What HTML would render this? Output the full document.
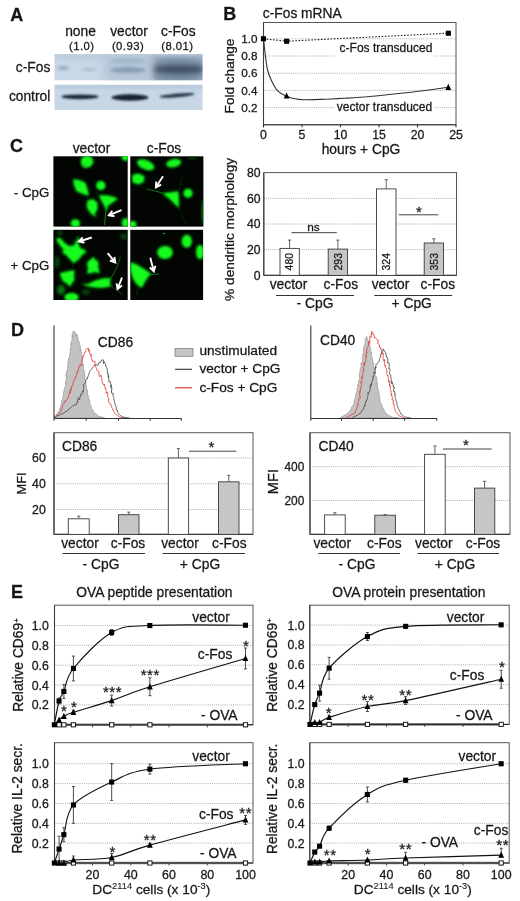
<!DOCTYPE html><html><head><meta charset="utf-8"><title>Figure</title><style>html,body{margin:0;padding:0;background:#fff}svg{display:block}text{font-family:"Liberation Sans",sans-serif;fill:#141414;stroke:#222;stroke-width:.28px}</style></head><body>
<svg width="520" height="901" viewBox="0 0 520 901">
<defs>
<filter id="b1" x="-50%" y="-50%" width="200%" height="200%"><feGaussianBlur stdDeviation="0.85"/></filter>
<filter id="b15" x="-50%" y="-50%" width="200%" height="200%"><feGaussianBlur stdDeviation="1.6"/></filter>
<filter id="b2" x="-50%" y="-50%" width="200%" height="200%"><feGaussianBlur stdDeviation="2.4"/></filter>
<filter id="b3" x="-50%" y="-50%" width="200%" height="200%"><feGaussianBlur stdDeviation="3.5"/></filter>
<filter id="b05" x="-50%" y="-50%" width="200%" height="200%"><feGaussianBlur stdDeviation="0.6"/></filter>
<clipPath id="cb1"><rect x="54.5" y="54" width="148" height="26.3"/></clipPath>
<clipPath id="cb2"><rect x="54.5" y="84.8" width="148" height="25.2"/></clipPath>
<clipPath id="ci1"><rect x="53.4" y="156.3" width="74.3" height="70.3"/></clipPath>
<clipPath id="ci2"><rect x="130.3" y="156.3" width="73.1" height="70.3"/></clipPath>
<clipPath id="ci3"><rect x="53.4" y="229.8" width="74.3" height="70.2"/></clipPath>
<clipPath id="ci4"><rect x="130.3" y="229.8" width="72.8" height="70.2"/></clipPath>
<marker id="ah" viewBox="0 0 10 10" refX="8" refY="5" markerWidth="4.2" markerHeight="4.2" orient="auto"><path d="M0 0.5L10 5L0 9.5L2.5 5Z" fill="#fff"/></marker>
</defs>
<rect x="0" y="0" width="520" height="901" fill="#fff"/>
<!-- Panel A -->
<text x="10.2" y="21.0" font-size="18.0" font-weight="bold" fill="#000">A</text>
<text x="80.5" y="36.2" font-size="13.8" text-anchor="middle">none</text>
<text x="129.0" y="36.2" font-size="13.8" text-anchor="middle">vector</text>
<text x="178.3" y="36.2" font-size="13.8" text-anchor="middle">c-Fos</text>
<text x="81.7" y="50.0" font-size="11.3" text-anchor="middle" fill="#333" letter-spacing="0.45">(1.0)</text>
<text x="128.0" y="50.0" font-size="11.3" text-anchor="middle" fill="#333" letter-spacing="0.45">(0.93)</text>
<text x="177.3" y="50.0" font-size="11.3" text-anchor="middle" fill="#333" letter-spacing="0.45">(8.01)</text>
<text x="50.3" y="71.8" font-size="13.8" text-anchor="end">c-Fos</text>
<text x="50.3" y="101.2" font-size="13.8" text-anchor="end">control</text>
<rect x="54.5" y="54.0" width="148.0" height="26.3" fill="#c9d8e6" stroke="none" stroke-width="1.00"/>
<g clip-path="url(#cb1)">
<rect x="54" y="53" width="150" height="7" fill="#bccddd" filter="url(#b2)"/>
<rect x="104" y="56" width="46" height="26" fill="#b0c2d4" opacity="0.8" filter="url(#b3)"/>
<ellipse cx="128" cy="70" rx="18" ry="2.8" fill="#7389a2" opacity="0.7" filter="url(#b15)"/>
<ellipse cx="128" cy="61" rx="17" ry="2.4" fill="#93a7bc" opacity="0.6" filter="url(#b15)"/>
<ellipse cx="63" cy="68" rx="6" ry="1.7" fill="#8198b0" opacity="0.75" filter="url(#b15)"/>
<ellipse cx="89" cy="69.5" rx="8" ry="1.5" fill="#8da2b8" opacity="0.6" filter="url(#b15)"/>
<rect x="152" y="57" width="54" height="26" fill="#8497ad" filter="url(#b3)"/>
<ellipse cx="179" cy="69.3" rx="25" ry="5.6" fill="#42526a" filter="url(#b2)"/>
<ellipse cx="178" cy="77" rx="22" ry="3" fill="#6a7d94" opacity="0.7" filter="url(#b2)"/>
<ellipse cx="178" cy="61.5" rx="21" ry="2.6" fill="#6f839a" opacity="0.7" filter="url(#b2)"/>
</g>
<rect x="54.5" y="84.8" width="148.0" height="25.2" fill="#c8d7e5" stroke="none" stroke-width="1.00"/>
<g clip-path="url(#cb2)">
<rect x="54" y="84" width="150" height="5" fill="#b8cadb" filter="url(#b15)"/>
<ellipse cx="80" cy="96.8" rx="18.5" ry="2.4" fill="#1c2b3c" filter="url(#b1)"/>
<ellipse cx="130" cy="97.5" rx="18.5" ry="3.3" fill="#16222f" filter="url(#b1)"/>
<ellipse cx="177" cy="95.4" rx="17.5" ry="1.9" fill="#24364a" filter="url(#b1)" transform="rotate(-5 177 95)"/>
</g>
<!-- Panel B -->
<text x="223.2" y="20.0" font-size="18.0" font-weight="bold" fill="#000">B</text>
<text x="262.8" y="17.8" font-size="13.8">c-Fos mRNA</text>
<line x1="263.5" y1="107.6" x2="456.0" y2="107.6" stroke="#999" stroke-width="0.80" stroke-dasharray="1 1.1"/>
<line x1="263.5" y1="90.4" x2="456.0" y2="90.4" stroke="#999" stroke-width="0.80" stroke-dasharray="1 1.1"/>
<line x1="263.5" y1="73.2" x2="456.0" y2="73.2" stroke="#999" stroke-width="0.80" stroke-dasharray="1 1.1"/>
<line x1="263.5" y1="56.0" x2="456.0" y2="56.0" stroke="#999" stroke-width="0.80" stroke-dasharray="1 1.1"/>
<line x1="263.5" y1="38.8" x2="456.0" y2="38.8" stroke="#999" stroke-width="0.80" stroke-dasharray="1 1.1"/>
<rect x="263.5" y="22.5" width="192.5" height="102.3" fill="none" stroke="#555" stroke-width="1.00"/>
<line x1="263.5" y1="22.5" x2="263.5" y2="124.8" stroke="#3c3c3c" stroke-width="1.10"/>
<line x1="263.5" y1="124.8" x2="456.0" y2="124.8" stroke="#3c3c3c" stroke-width="1.10"/>
<line x1="263.5" y1="124.8" x2="263.5" y2="127.3" stroke="#222" stroke-width="1.00"/>
<text x="263.5" y="139.4" font-size="12.3" text-anchor="middle">0</text>
<line x1="302.0" y1="124.8" x2="302.0" y2="127.3" stroke="#222" stroke-width="1.00"/>
<text x="302.0" y="139.4" font-size="12.3" text-anchor="middle">5</text>
<line x1="340.5" y1="124.8" x2="340.5" y2="127.3" stroke="#222" stroke-width="1.00"/>
<text x="340.5" y="139.4" font-size="12.3" text-anchor="middle">10</text>
<line x1="379.0" y1="124.8" x2="379.0" y2="127.3" stroke="#222" stroke-width="1.00"/>
<text x="379.0" y="139.4" font-size="12.3" text-anchor="middle">15</text>
<line x1="417.5" y1="124.8" x2="417.5" y2="127.3" stroke="#222" stroke-width="1.00"/>
<text x="417.5" y="139.4" font-size="12.3" text-anchor="middle">20</text>
<line x1="456.0" y1="124.8" x2="456.0" y2="127.3" stroke="#222" stroke-width="1.00"/>
<text x="456.0" y="139.4" font-size="12.3" text-anchor="middle">25</text>
<text x="257.6" y="111.8" font-size="11.7" text-anchor="end">0.2</text>
<text x="257.6" y="94.6" font-size="11.7" text-anchor="end">0.4</text>
<text x="257.6" y="77.4" font-size="11.7" text-anchor="end">0.6</text>
<text x="257.6" y="60.2" font-size="11.7" text-anchor="end">0.8</text>
<text x="257.6" y="43.0" font-size="11.7" text-anchor="end">1.0</text>
<text x="233.8" y="76.0" font-size="13.6" text-anchor="middle" transform="rotate(-90 233.8 76.0)">Fold change</text>
<path d="M263.5 38.8L286.6 41.2L448.3 33.2" fill="none" stroke="#222" stroke-width="1.10" stroke-dasharray="1.6 1.6"/>
<path d="M263.5 38.8C263.8 41.1 264.4 47.4 265.0 52.6C265.7 57.8 266.4 65.2 267.6 70.0C268.7 74.8 270.2 78.1 271.9 81.5C273.6 85.0 275.2 88.3 277.7 90.8C280.2 93.3 284.0 95.2 286.9 96.5C289.8 97.8 292.2 98.3 295.0 98.8C297.8 99.4 299.2 99.6 303.5 99.7C307.9 99.8 314.3 99.7 321.0 99.4C327.8 99.2 335.8 98.8 344.0 98.3C352.1 97.8 359.4 97.4 369.8 96.5C380.1 95.6 392.9 94.3 406.0 92.8C419.0 91.3 441.2 88.2 448.3 87.3" fill="none" stroke="#333" stroke-width="1.10"/>
<rect x="260.9" y="36.2" width="5.1" height="5.1" fill="#000"/>
<rect x="284.1" y="38.7" width="5.1" height="5.1" fill="#000"/>
<rect x="445.8" y="30.7" width="5.1" height="5.1" fill="#000"/>
<path d="M286.6 92.5L289.5 98.6L283.7 98.6Z" fill="#000"/>
<path d="M448.3 83.8L451.2 89.9L445.4 89.9Z" fill="#000"/>
<rect x="335.0" y="42.0" width="99.0" height="16.0" fill="#fff" stroke="none" stroke-width="1.00"/>
<text x="339.6" y="51.8" font-size="12.0">c-Fos transduced</text>
<rect x="335.0" y="101.0" width="99.0" height="12.5" fill="#fff" stroke="none" stroke-width="1.00"/>
<text x="336.8" y="111.0" font-size="12.0">vector transduced</text>
<text x="361.0" y="154.0" font-size="13.8" text-anchor="middle">hours + CpG</text>
<!-- Panel C -->
<text x="10.0" y="152.3" font-size="18.0" font-weight="bold" fill="#000">C</text>
<text x="91.5" y="153.0" font-size="13.8" text-anchor="middle">vector</text>
<text x="164.0" y="153.0" font-size="13.8" text-anchor="middle">c-Fos</text>
<text x="49.3" y="197.0" font-size="13.3" text-anchor="end">- CpG</text>
<text x="49.3" y="270.0" font-size="13.3" text-anchor="end">+ CpG</text>
<rect x="53.4" y="156.3" width="74.3" height="70.3" fill="#030503" stroke="none" stroke-width="1.00"/>
<g clip-path="url(#ci1)">
<ellipse cx="87.0" cy="161.5" rx="6.4" ry="6.2" fill="#0c9a14" filter="url(#b15)" opacity="0.90"/>
<ellipse cx="87.0" cy="161.5" rx="5.6" ry="5.4" fill="#12fb1e" filter="url(#b1)" opacity="1.00"/>
<polygon points="81.0,163.0 84.0,168.0 88.0,167.0" fill="#18d020" filter="url(#b1)" opacity="1.00"/>
<ellipse cx="125.8" cy="157.0" rx="4.4" ry="4.0" fill="#0c9a14" filter="url(#b15)" opacity="0.90"/>
<ellipse cx="125.8" cy="157.0" rx="3.6" ry="3.2" fill="#12fb1e" filter="url(#b1)" opacity="1.00"/>
<polygon points="73.5,179.5 79.0,180.5 85.0,183.0 87.0,189.0 88.5,195.5 83.0,193.5 77.0,191.0 74.5,185.0" fill="#0a8a12" filter="url(#b2)" opacity="0.70"/>
<polygon points="73.5,179.5 79.0,180.5 85.0,183.0 87.0,189.0 88.5,195.5 83.0,193.5 77.0,191.0 74.5,185.0" fill="#0c9a14" filter="url(#b15)" opacity="0.90"/>
<polygon points="73.5,179.5 79.0,180.5 85.0,183.0 87.0,189.0 88.5,195.5 83.0,193.5 77.0,191.0 74.5,185.0" fill="#12fb1e" filter="url(#b1)" opacity="1.00"/>
<ellipse cx="100.8" cy="185.5" rx="4.8" ry="4.7" fill="#0c9a14" filter="url(#b15)" opacity="0.90"/>
<ellipse cx="100.8" cy="185.5" rx="4.0" ry="3.9" fill="#12fb1e" filter="url(#b1)" opacity="1.00"/>
<polygon points="99.2,195.5 108.0,196.0 117.7,198.6 112.0,202.5 107.5,205.5 106.2,211.0 104.5,205.0 101.5,200.0" fill="#0a8a12" filter="url(#b2)" opacity="0.70"/>
<polygon points="99.2,195.5 108.0,196.0 117.7,198.6 112.0,202.5 107.5,205.5 106.2,211.0 104.5,205.0 101.5,200.0" fill="#0c9a14" filter="url(#b15)" opacity="0.90"/>
<polygon points="99.2,195.5 108.0,196.0 117.7,198.6 112.0,202.5 107.5,205.5 106.2,211.0 104.5,205.0 101.5,200.0" fill="#12fb1e" filter="url(#b1)" opacity="1.00"/>
<polyline points="106.5,208.0 105.3,216.0 104.6,225.0" fill="none" stroke="#14c41c" stroke-width="1.1" filter="url(#b05)" opacity="0.63"/>
<polygon points="87.5,201.0 93.0,199.5 97.0,203.0 97.0,209.0 94.5,213.5 96.0,217.0 91.0,213.0 87.5,208.0" fill="#0a8a12" filter="url(#b2)" opacity="0.70"/>
<polygon points="87.5,201.0 93.0,199.5 97.0,203.0 97.0,209.0 94.5,213.5 96.0,217.0 91.0,213.0 87.5,208.0" fill="#0c9a14" filter="url(#b15)" opacity="0.90"/>
<polygon points="87.5,201.0 93.0,199.5 97.0,203.0 97.0,209.0 94.5,213.5 96.0,217.0 91.0,213.0 87.5,208.0" fill="#12fb1e" filter="url(#b1)" opacity="1.00"/>
<ellipse cx="75.4" cy="223.4" rx="4.8" ry="4.4" fill="#0c9a14" filter="url(#b15)" opacity="0.90"/>
<ellipse cx="75.4" cy="223.4" rx="4.0" ry="3.6" fill="#12fb1e" filter="url(#b1)" opacity="1.00"/>
<ellipse cx="125.6" cy="222.8" rx="4.0" ry="4.8" fill="#0c9a14" filter="url(#b15)" opacity="0.90"/>
<ellipse cx="125.6" cy="222.8" rx="3.2" ry="4.0" fill="#12fb1e" filter="url(#b1)" opacity="1.00"/>
<polyline points="96.0,191.0 98.0,196.0" fill="none" stroke="#0a7a10" stroke-width="0.8" filter="url(#b05)" opacity="0.42"/>
<path d="M121.5 210.2L108.8 215.4M112.3 210.8L108.8 215.4L114.5 216.2" fill="none" stroke="#fff" stroke-width="1.9" stroke-linejoin="miter"/>
</g>
<rect x="130.3" y="156.3" width="73.1" height="70.3" fill="#030503" stroke="none" stroke-width="1.00"/>
<g clip-path="url(#ci2)">
<ellipse cx="145.7" cy="164.8" rx="9.4" ry="4.8" fill="#0c9a14" filter="url(#b15)" opacity="0.90" transform="rotate(22 145.7 164.8)"/>
<ellipse cx="145.7" cy="164.8" rx="8.6" ry="4.0" fill="#12fb1e" filter="url(#b1)" opacity="1.00" transform="rotate(22 145.7 164.8)"/>
<ellipse cx="173.7" cy="163.2" rx="7.8" ry="4.2" fill="#0c9a14" filter="url(#b15)" opacity="0.90" transform="rotate(-12 173.7 163.2)"/>
<ellipse cx="173.7" cy="163.2" rx="7.0" ry="3.4" fill="#12fb1e" filter="url(#b1)" opacity="1.00" transform="rotate(-12 173.7 163.2)"/>
<polygon points="132.5,175.5 138.0,174.0 144.0,176.5 143.5,181.5 138.5,184.0 133.0,182.0" fill="#0a8a12" filter="url(#b2)" opacity="0.70"/>
<polygon points="132.5,175.5 138.0,174.0 144.0,176.5 143.5,181.5 138.5,184.0 133.0,182.0" fill="#0c9a14" filter="url(#b15)" opacity="0.90"/>
<polygon points="132.5,175.5 138.0,174.0 144.0,176.5 143.5,181.5 138.5,184.0 133.0,182.0" fill="#12fb1e" filter="url(#b1)" opacity="1.00"/>
<polygon points="162.6,193.2 170.0,193.0 178.0,191.7 178.3,199.0 178.6,207.8 173.0,201.5 168.0,197.0" fill="#0a8a12" filter="url(#b2)" opacity="0.70"/>
<polygon points="162.6,193.2 170.0,193.0 178.0,191.7 178.3,199.0 178.6,207.8 173.0,201.5 168.0,197.0" fill="#0c9a14" filter="url(#b15)" opacity="0.90"/>
<polygon points="162.6,193.2 170.0,193.0 178.0,191.7 178.3,199.0 178.6,207.8 173.0,201.5 168.0,197.0" fill="#12fb1e" filter="url(#b1)" opacity="1.00"/>
<polyline points="146.5,189.0 155.0,191.0 163.0,193.3" fill="none" stroke="#14c41c" stroke-width="1.0" filter="url(#b05)" opacity="0.59"/>
<polyline points="178.0,192.0 180.5,184.0 182.6,177.0" fill="none" stroke="#0a7a10" stroke-width="0.8" filter="url(#b05)" opacity="0.39"/>
<polyline points="178.5,207.0 182.0,215.0 186.0,224.0" fill="none" stroke="#0a7a10" stroke-width="0.8" filter="url(#b05)" opacity="0.35"/>
<ellipse cx="188.0" cy="193.2" rx="4.7" ry="4.7" fill="#0c9a14" filter="url(#b15)" opacity="0.90"/>
<ellipse cx="188.0" cy="193.2" rx="3.9" ry="3.9" fill="#12fb1e" filter="url(#b1)" opacity="1.00"/>
<ellipse cx="132.5" cy="224.5" rx="4.2" ry="3.8" fill="#0c9a14" filter="url(#b15)" opacity="0.90"/>
<ellipse cx="132.5" cy="224.5" rx="3.4" ry="3.0" fill="#12fb1e" filter="url(#b1)" opacity="1.00"/>
<ellipse cx="203.0" cy="212.0" rx="1.6" ry="12.0" fill="#0c9a14" filter="url(#b1)" opacity="0.70"/>
<ellipse cx="192.0" cy="158.0" rx="4.0" ry="1.5" fill="#0a7a10" filter="url(#b1)" opacity="0.50"/>
<path d="M163.0 176.3L155.9 187.3M156.2 181.5L155.9 187.3L161.1 184.7" fill="none" stroke="#fff" stroke-width="1.9" stroke-linejoin="miter"/>
</g>
<rect x="53.4" y="229.8" width="74.3" height="70.2" fill="#030503" stroke="none" stroke-width="1.00"/>
<g clip-path="url(#ci3)">
<polygon points="56.5,239.6 59.5,238.1 64.6,243.6 69.2,246.7 74.3,245.8 76.5,241.2 78.6,236.5 79.2,237.2 77.7,243.9 80.2,248.5 86.3,251.3 81.5,255.0 78.6,259.0 73.4,262.7 71.2,259.9 67.2,255.6 62.0,251.6 64.8,250.1 60.2,245.2" fill="#0a8a12" filter="url(#b2)" opacity="0.70"/>
<polygon points="56.5,239.6 59.5,238.1 64.6,243.6 69.2,246.7 74.3,245.8 76.5,241.2 78.6,236.5 79.2,237.2 77.7,243.9 80.2,248.5 86.3,251.3 81.5,255.0 78.6,259.0 73.4,262.7 71.2,259.9 67.2,255.6 62.0,251.6 64.8,250.1 60.2,245.2" fill="#0c9a14" filter="url(#b15)" opacity="0.90"/>
<polygon points="56.5,239.6 59.5,238.1 64.6,243.6 69.2,246.7 74.3,245.8 76.5,241.2 78.6,236.5 79.2,237.2 77.7,243.9 80.2,248.5 86.3,251.3 81.5,255.0 78.6,259.0 73.4,262.7 71.2,259.9 67.2,255.6 62.0,251.6 64.8,250.1 60.2,245.2" fill="#12fb1e" filter="url(#b1)" opacity="1.00"/>
<polyline points="73.1,262.1 72.5,267.3" fill="none" stroke="#0a7a10" stroke-width="0.8" filter="url(#b05)" opacity="0.42"/>
<polygon points="93.5,257.2 94.9,259.9 98.0,262.1 97.7,267.3 99.5,273.2 95.5,271.6 91.2,272.5 87.4,273.5 88.5,268.5 87.4,262.7 90.3,260.2" fill="#0a8a12" filter="url(#b2)" opacity="0.70"/>
<polygon points="93.5,257.2 94.9,259.9 98.0,262.1 97.7,267.3 99.5,273.2 95.5,271.6 91.2,272.5 87.4,273.5 88.5,268.5 87.4,262.7 90.3,260.2" fill="#0c9a14" filter="url(#b15)" opacity="0.90"/>
<polygon points="93.5,257.2 94.9,259.9 98.0,262.1 97.7,267.3 99.5,273.2 95.5,271.6 91.2,272.5 87.4,273.5 88.5,268.5 87.4,262.7 90.3,260.2" fill="#12fb1e" filter="url(#b1)" opacity="1.00"/>
<polygon points="60.2,273.2 64.8,272.5 69.7,271.3 74.6,270.7 73.4,275.0 74.0,279.9 71.2,283.3 70.0,286.4 67.2,283.0 63.5,281.2 61.7,277.2" fill="#0a8a12" filter="url(#b2)" opacity="0.70"/>
<polygon points="60.2,273.2 64.8,272.5 69.7,271.3 74.6,270.7 73.4,275.0 74.0,279.9 71.2,283.3 70.0,286.4 67.2,283.0 63.5,281.2 61.7,277.2" fill="#0c9a14" filter="url(#b15)" opacity="0.90"/>
<polygon points="60.2,273.2 64.8,272.5 69.7,271.3 74.6,270.7 73.4,275.0 74.0,279.9 71.2,283.3 70.0,286.4 67.2,283.0 63.5,281.2 61.7,277.2" fill="#12fb1e" filter="url(#b1)" opacity="1.00"/>
<polygon points="81.7,284.2 88.5,284.2 94.6,281.2 102.3,279.0 110.6,278.4 109.1,282.4 110.9,286.1 103.1,287.3 96.2,287.3 88.5,286.1" fill="#0a8a12" filter="url(#b2)" opacity="0.70"/>
<polygon points="81.7,284.2 88.5,284.2 94.6,281.2 102.3,279.0 110.6,278.4 109.1,282.4 110.9,286.1 103.1,287.3 96.2,287.3 88.5,286.1" fill="#0c9a14" filter="url(#b15)" opacity="0.90"/>
<polygon points="81.7,284.2 88.5,284.2 94.6,281.2 102.3,279.0 110.6,278.4 109.1,282.4 110.9,286.1 103.1,287.3 96.2,287.3 88.5,286.1" fill="#12fb1e" filter="url(#b1)" opacity="1.00"/>
<polyline points="81.5,284.2 81.5,279.3" fill="none" stroke="#0a7a10" stroke-width="0.8" filter="url(#b05)" opacity="0.42"/>
<polyline points="110.3,279.0 114.3,272.5 117.4,265.8 119.5,259.6 120.5,257.2" fill="none" stroke="#14c41c" stroke-width="0.9" filter="url(#b05)" opacity="0.59"/>
<polyline points="110.3,285.8 116.2,290.1 122.6,295.0" fill="none" stroke="#12b01a" stroke-width="0.8" filter="url(#b05)" opacity="0.52"/>
<ellipse cx="71.5" cy="297.3" rx="7.3" ry="4.6" fill="#0c9a14" filter="url(#b15)" opacity="0.90"/>
<ellipse cx="71.5" cy="297.3" rx="6.5" ry="3.8" fill="#12fb1e" filter="url(#b1)" opacity="1.00"/>
<ellipse cx="61.0" cy="290.0" rx="4.0" ry="5.0" fill="#0c9a14" filter="url(#b15)" opacity="0.75"/>
<ellipse cx="57.0" cy="262.0" rx="3.0" ry="6.0" fill="#0a7a10" filter="url(#b15)" opacity="0.50"/>
<ellipse cx="86.0" cy="292.0" rx="4.0" ry="3.0" fill="#0a7a10" filter="url(#b15)" opacity="0.50"/>
<ellipse cx="123.8" cy="236.5" rx="3.5" ry="3.0" fill="#0a7a10" filter="url(#b15)" opacity="0.55"/>
<ellipse cx="60.0" cy="233.0" rx="3.0" ry="2.5" fill="#0a7a10" filter="url(#b15)" opacity="0.50"/>
<path d="M91.8 237.5L78.8 241.5M82.7 237.3L78.8 241.5L84.5 242.8" fill="none" stroke="#fff" stroke-width="1.9" stroke-linejoin="miter"/>
<path d="M107.7 253.2L115.3 262.6M109.9 260.5L115.3 262.6L114.4 256.9" fill="none" stroke="#fff" stroke-width="1.9" stroke-linejoin="miter"/>
<path d="M122.0 277.5L117.5 289.1M116.6 283.4L117.5 289.1L122.0 285.5" fill="none" stroke="#fff" stroke-width="1.9" stroke-linejoin="miter"/>
</g>
<rect x="130.3" y="229.8" width="72.8" height="70.2" fill="#030503" stroke="none" stroke-width="1.00"/>
<g clip-path="url(#ci4)">
<ellipse cx="165.0" cy="252.4" rx="8.0" ry="6.8" fill="#0c9a14" filter="url(#b15)" opacity="0.90"/>
<ellipse cx="165.0" cy="252.4" rx="7.2" ry="6.0" fill="#12fb1e" filter="url(#b1)" opacity="1.00"/>
<ellipse cx="186.8" cy="241.2" rx="5.3" ry="6.8" fill="#0c9a14" filter="url(#b15)" opacity="0.90"/>
<ellipse cx="186.8" cy="241.2" rx="4.5" ry="6.0" fill="#12fb1e" filter="url(#b1)" opacity="1.00"/>
<ellipse cx="200.0" cy="252.0" rx="4.2" ry="7.4" fill="#0c9a14" filter="url(#b15)" opacity="0.90"/>
<ellipse cx="200.0" cy="252.0" rx="3.4" ry="6.6" fill="#12fb1e" filter="url(#b1)" opacity="1.00"/>
<polygon points="131.0,262.5 137.5,265.5 144.0,269.5 150.5,273.8 146.0,279.0 141.5,287.5 137.0,284.0 133.5,279.0 131.0,271.0" fill="#0a8a12" filter="url(#b2)" opacity="0.70"/>
<polygon points="131.0,262.5 137.5,265.5 144.0,269.5 150.5,273.8 146.0,279.0 141.5,287.5 137.0,284.0 133.5,279.0 131.0,271.0" fill="#0c9a14" filter="url(#b15)" opacity="0.90"/>
<polygon points="131.0,262.5 137.5,265.5 144.0,269.5 150.5,273.8 146.0,279.0 141.5,287.5 137.0,284.0 133.5,279.0 131.0,271.0" fill="#12fb1e" filter="url(#b1)" opacity="1.00"/>
<polyline points="147.0,274.6 153.0,274.4 158.8,274.0" fill="none" stroke="#14c41c" stroke-width="1.0" filter="url(#b05)" opacity="0.59"/>
<polyline points="139.0,285.5 137.5,290.0 136.5,295.0" fill="none" stroke="#0a7a10" stroke-width="0.8" filter="url(#b05)" opacity="0.42"/>
<ellipse cx="164.2" cy="233.5" rx="1.4" ry="0.8" fill="#14c41c" filter="url(#b05)" opacity="0.80"/>
<path d="M150.3 257.8L153.8 271.4M149.7 267.3L153.8 271.4L155.4 265.8" fill="none" stroke="#fff" stroke-width="1.9" stroke-linejoin="miter"/>
</g>
<line x1="263.8" y1="249.7" x2="456.5" y2="249.7" stroke="#999" stroke-width="0.80" stroke-dasharray="1 1.1"/>
<line x1="263.8" y1="224.0" x2="456.5" y2="224.0" stroke="#999" stroke-width="0.80" stroke-dasharray="1 1.1"/>
<line x1="263.8" y1="198.3" x2="456.5" y2="198.3" stroke="#999" stroke-width="0.80" stroke-dasharray="1 1.1"/>
<rect x="263.8" y="172.6" width="192.7" height="102.8" fill="none" stroke="#555" stroke-width="1.00"/>
<line x1="263.8" y1="172.6" x2="263.8" y2="275.4" stroke="#3c3c3c" stroke-width="1.10"/>
<line x1="263.8" y1="275.4" x2="456.5" y2="275.4" stroke="#3c3c3c" stroke-width="1.10"/>
<text x="260.6" y="279.8" font-size="12.2" text-anchor="end">0</text>
<text x="260.6" y="254.1" font-size="12.2" text-anchor="end">20</text>
<text x="260.6" y="228.4" font-size="12.2" text-anchor="end">40</text>
<text x="260.6" y="202.7" font-size="12.2" text-anchor="end">60</text>
<text x="260.6" y="177.0" font-size="12.2" text-anchor="end">80</text>
<line x1="289.6" y1="240.1" x2="289.6" y2="248.4" stroke="#555" stroke-width="0.90"/>
<line x1="288.0" y1="240.1" x2="291.2" y2="240.1" stroke="#555" stroke-width="0.90"/>
<rect x="280.0" y="248.4" width="19.3" height="27.0" fill="#fff" stroke="#3a3a3a" stroke-width="0.90"/>
<text x="293.3" y="270.4" font-size="10.4" transform="rotate(-90 293.3 270.4)">480</text>
<line x1="337.9" y1="240.1" x2="337.9" y2="249.1" stroke="#555" stroke-width="0.90"/>
<line x1="336.2" y1="240.1" x2="339.5" y2="240.1" stroke="#555" stroke-width="0.90"/>
<rect x="328.2" y="249.1" width="19.3" height="26.3" fill="#c6c6c6" stroke="#3a3a3a" stroke-width="0.90"/>
<text x="341.6" y="270.4" font-size="10.4" transform="rotate(-90 341.6 270.4)">293</text>
<line x1="386.2" y1="179.7" x2="386.2" y2="188.9" stroke="#555" stroke-width="0.90"/>
<line x1="384.6" y1="179.7" x2="387.9" y2="179.7" stroke="#555" stroke-width="0.90"/>
<rect x="376.5" y="188.9" width="19.5" height="86.5" fill="#fff" stroke="#3a3a3a" stroke-width="0.90"/>
<text x="389.9" y="270.4" font-size="10.4" transform="rotate(-90 389.9 270.4)">324</text>
<line x1="433.9" y1="238.8" x2="433.9" y2="243.0" stroke="#555" stroke-width="0.90"/>
<line x1="432.2" y1="238.8" x2="435.5" y2="238.8" stroke="#555" stroke-width="0.90"/>
<rect x="424.2" y="243.0" width="19.3" height="32.4" fill="#c6c6c6" stroke="#3a3a3a" stroke-width="0.90"/>
<text x="437.6" y="270.4" font-size="10.4" transform="rotate(-90 437.6 270.4)">353</text>
<line x1="291.5" y1="232.7" x2="336.8" y2="232.7" stroke="#222" stroke-width="0.85"/>
<text x="313.5" y="230.6" font-size="11.8" text-anchor="middle">ns</text>
<line x1="398.8" y1="214.8" x2="438.4" y2="214.8" stroke="#222" stroke-width="0.85"/>
<text x="419.0" y="216.6" font-size="15.0" text-anchor="middle">*</text>
<text x="288.5" y="288.6" font-size="13.8" text-anchor="middle">vector</text>
<text x="340.8" y="288.6" font-size="13.8" text-anchor="middle">c-Fos</text>
<text x="390.5" y="288.6" font-size="13.8" text-anchor="middle">vector</text>
<text x="437.8" y="288.6" font-size="13.8" text-anchor="middle">c-Fos</text>
<line x1="276.0" y1="295.5" x2="354.0" y2="295.5" stroke="#333" stroke-width="1.00"/>
<line x1="374.3" y1="295.5" x2="452.2" y2="295.5" stroke="#333" stroke-width="1.00"/>
<text x="315.0" y="308.3" font-size="13.8" text-anchor="middle">- CpG</text>
<text x="411.7" y="308.3" font-size="13.8" text-anchor="middle">+ CpG</text>
<text x="234.0" y="229.4" font-size="13.7" text-anchor="middle" transform="rotate(-90 234.0 229.4)">% dendritic morphology</text>
<!-- Panel D -->
<text x="11.0" y="335.6" font-size="18.0" font-weight="bold" fill="#000">D</text>
<polygon points="53.8,417.8 55.0,416.5 56.2,414.9 57.2,413.9 58.4,412.1 59.1,411.0 59.5,409.6 59.9,407.8 60.3,407.7 60.7,406.2 61.2,403.4 61.8,403.3 61.6,400.5 62.4,400.4 62.5,400.4 62.8,399.2 62.7,397.6 63.0,396.7 63.7,392.9 63.2,391.9 64.3,391.3 64.2,389.6 64.4,388.6 64.5,388.0 64.9,387.7 65.2,386.5 65.5,385.4 65.5,381.6 65.9,382.8 66.1,380.3 66.1,377.9 66.4,377.8 66.0,374.9 66.8,376.5 66.2,374.7 66.7,371.4 66.7,372.0 67.6,368.6 67.5,367.3 67.7,366.9 68.1,367.6 67.9,366.4 67.9,362.4 68.4,361.0 68.1,360.9 68.8,358.8 68.4,359.8 68.8,358.8 69.7,355.8 69.4,355.0 69.8,353.9 69.9,352.8 70.5,351.2 70.1,350.6 70.1,348.0 71.1,347.5 70.8,344.7 70.9,345.1 70.7,343.9 71.6,340.9 71.8,340.8 72.1,339.1 72.3,339.0 71.8,335.6 72.7,337.1 72.5,334.2 73.1,332.5 73.1,331.1 74.3,331.1 74.6,331.9 75.4,332.4 75.5,336.1 76.7,333.9 77.6,335.3 77.2,337.3 78.1,337.6 78.0,339.7 78.8,341.3 79.4,342.1 79.3,345.1 80.4,346.0 80.0,346.3 80.5,347.8 81.1,351.0 80.7,350.6 81.6,353.0 81.9,353.4 81.3,354.4 82.2,355.6 81.8,357.3 82.1,358.5 82.8,358.9 81.9,362.6 83.0,364.0 82.7,365.1 83.4,364.1 83.3,367.2 83.5,367.5 83.3,368.2 83.4,368.7 84.0,370.6 84.4,371.2 84.7,374.4 85.0,376.3 85.1,376.6 84.4,378.4 84.8,378.4 85.5,380.3 85.4,382.9 85.9,382.3 85.7,385.1 86.2,386.1 86.2,385.5 86.7,388.7 86.5,389.8 87.5,391.1 87.6,389.9 87.6,393.7 87.2,393.1 87.8,395.2 88.2,396.2 88.9,396.0 88.4,397.6 88.8,398.7 90.0,402.2 89.5,402.5 90.0,403.3 90.3,405.2 90.8,405.9 91.2,407.1 91.8,408.7 92.7,409.7 93.1,410.7 93.8,412.4 95.5,413.5 97.0,414.8 98.5,416.0 99.7,416.4 100.9,416.8 102.2,417.1 103.4,417.5 104.6,417.8" fill="#c2c2c2" stroke="#9a9a9a" stroke-width="0.7"/>
<polyline points="53.8,417.8 55.1,416.8 56.4,415.6 57.6,414.7 58.7,413.4 59.8,412.7 60.7,411.5 61.5,410.0 62.1,408.5 62.3,407.2 62.9,404.8 64.2,403.1 64.2,401.8 65.7,400.7 65.3,401.7 66.1,400.4 67.5,399.1 68.5,396.8 69.0,393.4 69.6,393.9 70.0,391.1 70.6,393.0 70.2,389.3 71.4,390.0 71.4,386.2 72.0,386.6 73.1,384.4 73.0,383.1 73.4,381.9 73.5,380.9 75.1,379.2 75.3,376.9 75.6,377.9 76.1,375.7 76.4,374.9 77.5,371.7 76.9,372.7 78.5,370.6 78.4,370.1 78.7,367.1 79.3,367.1 80.1,364.5 81.2,366.1 81.3,363.9 81.8,363.2 82.4,359.6 82.2,357.4 82.9,357.5 82.9,356.1 83.5,356.4 83.6,356.0 84.4,353.3 84.8,353.0 85.6,350.7 85.5,350.1 88.2,347.9 88.8,351.3 89.2,349.7 89.6,353.1 91.0,355.6 91.6,354.1 91.0,355.4 91.3,358.3 92.5,360.3 92.0,361.4 93.3,361.2 95.1,361.5 94.7,365.6 95.4,365.0 96.2,367.4 95.8,367.4 96.8,369.2 97.1,370.8 98.8,371.3 98.8,371.5 99.1,374.8 99.5,376.9 101.1,375.1 101.6,377.5 101.9,380.2 101.8,381.2 102.8,383.0 102.8,384.1 104.2,385.0 104.2,384.2 104.6,386.4 105.4,388.9 105.7,388.3 106.3,391.3 106.1,393.6 107.1,392.0 107.9,393.4 107.5,397.0 108.2,397.7 108.7,398.7 108.6,399.0 108.7,402.3 110.0,403.0 110.5,403.7 110.6,405.1 111.6,405.6 111.8,407.4 112.5,409.0 113.2,410.6 114.4,412.6 115.3,414.1 116.8,414.8 118.4,416.0 120.0,417.3 121.2,417.3 122.5,417.5 123.7,417.6 124.9,417.7 126.2,417.8" fill="none" stroke="#e23838" stroke-width="0.8"/>
<polyline points="53.8,417.8 55.2,417.2 56.5,416.4 57.9,415.6 59.3,415.3 60.7,414.3 61.9,413.8 63.3,413.5 64.7,412.1 66.0,411.4 67.1,410.8 68.0,410.0 69.6,408.6 70.8,407.6 71.8,406.8 72.8,405.8 74.6,404.8 75.8,405.3 77.3,402.0 77.9,402.3 77.6,400.1 78.4,397.8 79.4,399.8 79.8,398.3 80.8,394.2 81.5,394.7 82.1,393.9 82.4,391.2 83.0,392.2 83.6,389.0 83.9,387.9 83.4,384.8 83.8,384.1 84.4,383.9 85.5,382.8 85.6,381.9 85.9,379.9 87.1,378.4 87.0,379.1 88.3,375.8 88.4,375.2 89.4,372.8 89.6,371.2 91.7,369.4 92.3,368.1 93.5,366.4 95.3,364.9 96.3,364.3 98.0,365.5 98.9,362.4 100.4,362.5 101.8,359.8 103.6,360.2 103.6,363.7 104.3,361.7 105.2,363.3 105.8,365.3 105.5,365.4 106.6,367.4 107.1,369.4 107.7,370.0 107.0,371.2 108.1,373.9 107.8,373.2 108.6,377.8 108.7,375.5 108.3,377.1 108.8,378.2 108.9,381.9 110.4,381.5 110.8,383.9 110.9,386.9 111.4,384.8 110.8,388.3 112.0,387.6 111.4,391.9 111.5,391.5 112.1,394.0 113.2,393.4 113.2,396.9 113.7,397.5 114.1,398.1 113.7,399.0 114.5,401.3 114.3,401.6 115.1,404.3 115.4,405.0 115.6,405.8 116.1,406.9 116.3,409.7 117.2,410.0 117.7,412.4 118.7,413.7 119.5,414.7 120.7,415.7 121.8,416.4 123.1,417.2 124.3,417.3 125.5,417.4 126.8,417.6 128.0,417.7 129.2,417.8" fill="none" stroke="#444" stroke-width="0.8"/>
<line x1="54.0" y1="325.5" x2="54.0" y2="418.5" stroke="#333" stroke-width="1.10"/>
<line x1="54.0" y1="418.5" x2="181.5" y2="418.5" stroke="#333" stroke-width="1.10"/>
<line x1="54.0" y1="418.5" x2="54.0" y2="420.8" stroke="#333" stroke-width="1.00"/>
<line x1="86.2" y1="418.5" x2="86.2" y2="420.8" stroke="#333" stroke-width="1.00"/>
<line x1="118.5" y1="418.5" x2="118.5" y2="420.8" stroke="#333" stroke-width="1.00"/>
<line x1="150.2" y1="418.5" x2="150.2" y2="420.8" stroke="#333" stroke-width="1.00"/>
<line x1="181.3" y1="418.5" x2="181.3" y2="420.8" stroke="#333" stroke-width="1.00"/>
<text x="97.8" y="347.0" font-size="13.8">CD86</text>
<polygon points="340.0,417.8 341.3,417.0 342.6,416.4 343.9,415.5 345.3,414.8 346.6,414.1 347.9,412.9 349.1,411.9 350.0,410.5 350.3,410.3 351.0,409.0 351.6,407.0 352.3,406.4 353.3,404.7 354.1,404.0 354.0,402.1 354.4,399.5 355.1,399.7 355.4,397.2 355.4,396.8 355.9,394.4 355.8,394.4 355.8,393.4 356.9,391.8 357.1,391.1 356.8,389.1 357.9,387.8 357.5,385.8 357.4,384.8 358.4,385.3 358.6,384.9 358.5,383.5 358.6,380.7 359.3,380.9 359.5,378.4 359.5,376.9 359.9,377.3 359.4,376.1 359.5,372.3 360.2,371.7 360.2,371.5 359.9,370.6 360.4,368.4 360.7,368.1 361.3,365.5 360.8,364.3 361.3,362.4 361.3,363.3 362.1,362.7 362.6,361.2 362.1,357.7 362.3,357.4 362.7,356.4 362.7,356.2 362.8,353.7 363.7,353.5 363.3,350.5 364.0,348.6 363.5,348.9 364.1,346.5 363.8,345.4 364.7,344.9 365.2,344.7 365.4,341.1 364.7,339.8 365.2,339.5 365.7,338.6 366.6,336.3 367.2,339.1 367.9,338.6 367.9,340.4 368.9,342.4 369.7,344.0 369.2,343.3 370.0,346.7 370.0,348.1 370.4,347.8 370.2,348.3 371.0,352.4 371.6,352.4 371.6,355.2 372.0,355.4 371.8,356.4 371.8,356.6 372.6,360.3 372.7,359.7 372.7,361.1 373.4,362.3 373.8,362.6 373.4,365.0 373.8,367.2 374.5,368.8 374.5,367.3 374.7,370.2 374.9,370.6 375.4,373.8 375.0,374.4 375.5,375.2 376.3,377.8 376.3,376.8 376.9,378.0 376.5,381.3 376.7,380.8 377.6,384.2 377.1,383.8 377.3,384.3 377.5,388.1 377.5,387.1 377.8,387.9 378.4,391.3 378.9,392.2 379.1,391.6 378.7,395.8 378.7,394.9 379.4,396.2 379.8,396.9 379.9,401.0 380.2,402.1 380.6,403.6 381.5,404.0 381.4,404.0 382.3,405.7 382.3,408.2 383.4,408.3 384.1,410.2 384.6,411.0 385.4,413.0 386.1,413.6 387.3,414.3 388.6,415.4 389.8,415.8 391.1,416.7 392.3,417.2 393.5,417.4 394.8,417.5 396.0,417.6 397.2,417.7 398.5,417.8" fill="#c2c2c2" stroke="#9a9a9a" stroke-width="0.7"/>
<polyline points="346.2,417.8 347.5,417.1 348.8,416.3 350.2,415.3 351.5,415.0 352.8,413.6 354.2,413.4 355.3,412.0 355.6,410.4 356.4,409.7 356.7,407.9 356.5,408.2 357.5,407.4 357.8,405.0 358.2,402.5 358.4,402.3 358.3,401.6 358.8,400.0 359.1,398.1 359.2,397.9 360.2,398.0 360.2,396.4 359.6,395.7 359.8,391.2 360.2,392.3 360.2,390.7 360.3,390.7 360.7,387.6 360.9,387.9 361.7,385.3 361.1,384.5 360.8,382.5 362.0,382.6 361.2,381.7 361.8,380.9 362.0,376.7 362.4,378.1 362.5,376.8 363.1,373.6 362.7,372.9 363.0,371.2 363.6,371.9 363.7,367.9 363.4,367.5 364.2,365.4 363.6,364.8 364.1,362.5 364.7,364.7 364.9,362.7 365.6,361.8 365.9,359.0 365.9,356.5 366.4,356.2 366.1,356.9 366.1,352.9 367.1,353.2 366.4,349.7 367.0,348.4 367.9,347.8 367.4,347.3 368.1,346.1 368.6,345.7 368.7,342.2 369.7,343.2 368.9,340.9 370.1,341.7 369.6,336.6 370.5,336.9 371.4,337.2 371.0,334.3 371.7,334.8 371.5,331.6 371.8,331.3 372.4,334.0 373.9,334.1 373.8,334.4 374.8,338.3 375.4,337.6 378.2,340.6 377.9,340.1 378.0,344.0 378.2,343.8 379.2,344.4 379.7,347.7 380.6,348.6 380.4,347.5 381.4,350.0 381.5,353.5 381.9,354.6 383.2,353.2 383.5,355.5 382.9,356.0 383.1,358.5 383.8,361.2 384.8,359.4 384.5,362.1 384.5,362.9 384.9,365.9 385.3,365.0 385.5,367.7 386.2,368.3 386.7,369.4 386.9,372.2 386.6,374.0 387.1,374.4 387.7,376.0 387.8,375.1 388.5,379.4 388.4,379.6 388.4,382.1 389.2,380.7 389.7,384.9 389.3,386.3 389.7,384.4 390.3,386.3 390.6,388.5 390.0,389.6 391.2,390.7 391.1,393.4 391.2,393.3 391.6,395.9 391.4,394.3 392.4,397.4 392.0,400.0 393.1,399.8 393.5,402.1 393.5,401.5 393.0,403.9 394.1,404.2 394.1,406.0 394.3,407.5 394.8,408.1 394.8,409.6 395.3,411.1 396.2,411.9 397.1,413.3 398.2,414.4 399.0,416.0 400.4,416.5 401.8,416.8 403.2,417.4 404.6,417.8" fill="none" stroke="#e23838" stroke-width="0.8"/>
<polyline points="352.3,417.8 353.6,417.1 354.9,416.5 356.2,415.7 357.5,415.2 358.7,414.3 360.1,413.6 360.8,412.6 361.4,410.9 362.6,410.5 363.2,409.5 363.5,407.9 364.8,405.5 364.9,406.2 365.2,404.5 365.3,403.0 365.8,401.3 366.3,401.4 367.2,398.8 367.5,397.3 368.0,395.4 368.0,395.4 368.2,392.1 368.2,393.0 368.7,392.1 369.5,391.6 370.3,389.3 370.1,385.4 370.7,386.7 371.6,383.3 370.9,384.9 372.1,381.7 372.5,379.2 372.7,379.9 373.2,376.6 372.9,377.1 374.4,374.0 373.5,372.5 374.9,372.3 374.8,373.3 375.4,369.2 375.9,366.9 375.7,368.2 375.9,364.4 376.9,364.3 378.2,362.2 378.6,362.0 379.2,361.0 379.6,359.3 379.4,358.6 380.7,356.9 380.3,356.0 380.6,354.4 381.6,354.0 382.7,351.5 383.1,348.9 384.4,351.1 385.6,352.9 386.3,355.5 386.6,357.2 386.9,357.3 387.0,357.1 388.1,360.0 387.4,363.0 388.3,363.2 388.4,362.6 389.4,364.1 388.9,368.7 388.8,368.1 389.5,368.5 390.4,370.4 389.4,371.9 389.7,374.0 391.1,376.0 390.2,376.4 390.8,376.8 391.1,377.4 391.1,379.9 391.3,382.4 391.4,383.6 391.9,381.5 392.9,384.5 393.2,385.6 393.3,385.2 393.7,388.2 394.3,387.5 393.4,391.3 394.8,391.6 394.8,393.4 394.7,394.3 395.2,393.9 395.1,397.8 395.4,398.2 395.7,399.1 396.5,401.8 397.1,402.2 396.6,403.2 396.8,404.3 397.6,406.6 397.7,407.0 398.2,408.3 399.1,409.8 399.9,411.5 400.2,412.5 400.8,414.0 402.2,414.8 403.4,415.8 404.6,416.9 405.8,417.1 407.1,417.3 408.3,417.5 409.5,417.7 410.8,417.8" fill="none" stroke="#444" stroke-width="0.8"/>
<line x1="310.8" y1="325.5" x2="310.8" y2="418.5" stroke="#333" stroke-width="1.10"/>
<line x1="310.8" y1="418.5" x2="437.0" y2="418.5" stroke="#333" stroke-width="1.10"/>
<line x1="310.8" y1="418.5" x2="310.8" y2="420.8" stroke="#333" stroke-width="1.00"/>
<line x1="341.5" y1="418.5" x2="341.5" y2="420.8" stroke="#333" stroke-width="1.00"/>
<line x1="373.2" y1="418.5" x2="373.2" y2="420.8" stroke="#333" stroke-width="1.00"/>
<line x1="404.6" y1="418.5" x2="404.6" y2="420.8" stroke="#333" stroke-width="1.00"/>
<line x1="436.8" y1="418.5" x2="436.8" y2="420.8" stroke="#333" stroke-width="1.00"/>
<text x="320.0" y="345.3" font-size="13.8">CD40</text>
<rect x="175.0" y="348.5" width="18.0" height="7.8" fill="#c6c6c6" stroke="#8a8a8a" stroke-width="0.90"/>
<line x1="175.0" y1="369.3" x2="192.0" y2="369.3" stroke="#333" stroke-width="1.10"/>
<line x1="175.0" y1="387.8" x2="192.0" y2="387.8" stroke="#e03030" stroke-width="1.10"/>
<text x="199.4" y="354.8" font-size="13.7">unstimulated</text>
<text x="199.4" y="373.4" font-size="13.7">vector + CpG</text>
<text x="199.4" y="391.6" font-size="13.7">c-Fos + CpG</text>
<line x1="54.0" y1="509.5" x2="253.0" y2="509.5" stroke="#999" stroke-width="0.80" stroke-dasharray="1 1.1"/>
<line x1="54.0" y1="483.8" x2="253.0" y2="483.8" stroke="#999" stroke-width="0.80" stroke-dasharray="1 1.1"/>
<line x1="54.0" y1="458.0" x2="253.0" y2="458.0" stroke="#999" stroke-width="0.80" stroke-dasharray="1 1.1"/>
<rect x="54.0" y="432.7" width="199.0" height="101.7" fill="none" stroke="#555" stroke-width="1.00"/>
<line x1="54.0" y1="432.7" x2="54.0" y2="534.4" stroke="#3c3c3c" stroke-width="1.10"/>
<line x1="54.0" y1="534.4" x2="253.0" y2="534.4" stroke="#3c3c3c" stroke-width="1.10"/>
<text x="45.8" y="513.9" font-size="12.3" text-anchor="end">20</text>
<text x="45.8" y="488.2" font-size="12.3" text-anchor="end">40</text>
<text x="45.8" y="462.4" font-size="12.3" text-anchor="end">60</text>
<text x="62.0" y="451.0" font-size="13.8">CD86</text>
<line x1="78.8" y1="516.2" x2="78.8" y2="518.8" stroke="#555" stroke-width="0.90"/>
<line x1="77.2" y1="516.2" x2="80.3" y2="516.2" stroke="#555" stroke-width="0.90"/>
<rect x="68.3" y="518.8" width="20.9" height="15.6" fill="#fff" stroke="#3a3a3a" stroke-width="0.90"/>
<line x1="128.8" y1="512.1" x2="128.8" y2="514.7" stroke="#555" stroke-width="0.90"/>
<line x1="127.2" y1="512.1" x2="130.3" y2="512.1" stroke="#555" stroke-width="0.90"/>
<rect x="118.5" y="514.7" width="20.5" height="19.7" fill="#c6c6c6" stroke="#3a3a3a" stroke-width="0.90"/>
<line x1="178.4" y1="448.6" x2="178.4" y2="458.0" stroke="#555" stroke-width="0.90"/>
<line x1="176.8" y1="448.6" x2="180.0" y2="448.6" stroke="#555" stroke-width="0.90"/>
<rect x="168.3" y="458.0" width="20.3" height="76.4" fill="#fff" stroke="#3a3a3a" stroke-width="0.90"/>
<line x1="228.8" y1="475.4" x2="228.8" y2="481.8" stroke="#555" stroke-width="0.90"/>
<line x1="227.2" y1="475.4" x2="230.3" y2="475.4" stroke="#555" stroke-width="0.90"/>
<rect x="218.5" y="481.8" width="20.5" height="52.6" fill="#c6c6c6" stroke="#3a3a3a" stroke-width="0.90"/>
<line x1="189.0" y1="451.2" x2="236.3" y2="451.2" stroke="#222" stroke-width="0.85"/>
<text x="211.4" y="452.4" font-size="15.0" text-anchor="middle">*</text>
<text x="80.0" y="547.6" font-size="13.8" text-anchor="middle">vector</text>
<text x="128.0" y="547.6" font-size="13.8" text-anchor="middle">c-Fos</text>
<text x="180.0" y="547.6" font-size="13.8" text-anchor="middle">vector</text>
<text x="229.3" y="547.6" font-size="13.8" text-anchor="middle">c-Fos</text>
<line x1="62.5" y1="553.5" x2="145.0" y2="553.5" stroke="#333" stroke-width="1.00"/>
<line x1="162.5" y1="553.5" x2="245.0" y2="553.5" stroke="#333" stroke-width="1.00"/>
<text x="101.0" y="568.6" font-size="13.8" text-anchor="middle">- CpG</text>
<text x="200.0" y="568.6" font-size="13.8" text-anchor="middle">+ CpG</text>
<text x="26.0" y="483.4" font-size="12.8" text-anchor="middle" transform="rotate(-90 26.0 483.4)">MFI</text>
<line x1="310.0" y1="500.5" x2="510.0" y2="500.5" stroke="#999" stroke-width="0.80" stroke-dasharray="1 1.1"/>
<line x1="310.0" y1="466.6" x2="510.0" y2="466.6" stroke="#999" stroke-width="0.80" stroke-dasharray="1 1.1"/>
<rect x="310.0" y="432.7" width="200.0" height="101.7" fill="none" stroke="#555" stroke-width="1.00"/>
<line x1="310.0" y1="432.7" x2="310.0" y2="534.4" stroke="#3c3c3c" stroke-width="1.10"/>
<line x1="310.0" y1="534.4" x2="510.0" y2="534.4" stroke="#3c3c3c" stroke-width="1.10"/>
<text x="304.3" y="504.9" font-size="11.9" text-anchor="end">200</text>
<text x="304.3" y="471.0" font-size="11.9" text-anchor="end">400</text>
<text x="318.5" y="451.0" font-size="13.8">CD40</text>
<line x1="334.9" y1="512.7" x2="334.9" y2="514.9" stroke="#555" stroke-width="0.90"/>
<line x1="333.3" y1="512.7" x2="336.5" y2="512.7" stroke="#555" stroke-width="0.90"/>
<rect x="324.6" y="514.9" width="20.6" height="19.5" fill="#fff" stroke="#3a3a3a" stroke-width="0.90"/>
<line x1="385.1" y1="514.6" x2="385.1" y2="515.2" stroke="#555" stroke-width="0.90"/>
<line x1="383.5" y1="514.6" x2="386.7" y2="514.6" stroke="#555" stroke-width="0.90"/>
<rect x="374.8" y="515.2" width="20.6" height="19.2" fill="#c6c6c6" stroke="#3a3a3a" stroke-width="0.90"/>
<line x1="434.9" y1="446.0" x2="434.9" y2="454.3" stroke="#555" stroke-width="0.90"/>
<line x1="433.3" y1="446.0" x2="436.5" y2="446.0" stroke="#555" stroke-width="0.90"/>
<rect x="424.6" y="454.3" width="20.6" height="80.1" fill="#fff" stroke="#3a3a3a" stroke-width="0.90"/>
<line x1="484.6" y1="481.3" x2="484.6" y2="488.1" stroke="#555" stroke-width="0.90"/>
<line x1="483.0" y1="481.3" x2="486.2" y2="481.3" stroke="#555" stroke-width="0.90"/>
<rect x="474.5" y="488.1" width="20.3" height="46.3" fill="#c6c6c6" stroke="#3a3a3a" stroke-width="0.90"/>
<line x1="443.0" y1="449.0" x2="491.7" y2="449.0" stroke="#222" stroke-width="0.85"/>
<text x="466.0" y="450.2" font-size="15.0" text-anchor="middle">*</text>
<text x="332.2" y="547.6" font-size="13.8" text-anchor="middle">vector</text>
<text x="384.3" y="547.6" font-size="13.8" text-anchor="middle">c-Fos</text>
<text x="433.8" y="547.6" font-size="13.8" text-anchor="middle">vector</text>
<text x="483.0" y="547.6" font-size="13.8" text-anchor="middle">c-Fos</text>
<line x1="318.3" y1="553.5" x2="400.0" y2="553.5" stroke="#333" stroke-width="1.00"/>
<line x1="417.5" y1="553.5" x2="499.0" y2="553.5" stroke="#333" stroke-width="1.00"/>
<text x="357.0" y="568.6" font-size="13.8" text-anchor="middle">- CpG</text>
<text x="455.0" y="568.6" font-size="13.8" text-anchor="middle">+ CpG</text>
<text x="277.8" y="481.6" font-size="14.6" text-anchor="middle" transform="rotate(-90 277.8 481.6)">MFI</text>
<!-- Panel E -->
<text x="11.0" y="597.8" font-size="18.0" font-weight="bold" fill="#000">E</text>
<text x="76.3" y="597.0" font-size="13.8">OVA peptide presentation</text>
<text x="332.3" y="597.0" font-size="13.8">OVA protein presentation</text>
<line x1="54.5" y1="704.9" x2="253.0" y2="704.9" stroke="#999" stroke-width="0.80" stroke-dasharray="1 1.1"/>
<line x1="54.5" y1="685.1" x2="253.0" y2="685.1" stroke="#999" stroke-width="0.80" stroke-dasharray="1 1.1"/>
<line x1="54.5" y1="665.2" x2="253.0" y2="665.2" stroke="#999" stroke-width="0.80" stroke-dasharray="1 1.1"/>
<line x1="54.5" y1="645.4" x2="253.0" y2="645.4" stroke="#999" stroke-width="0.80" stroke-dasharray="1 1.1"/>
<line x1="54.5" y1="625.5" x2="253.0" y2="625.5" stroke="#999" stroke-width="0.80" stroke-dasharray="1 1.1"/>
<rect x="54.5" y="605.2" width="198.5" height="119.6" fill="none" stroke="#555" stroke-width="1.00"/>
<line x1="54.5" y1="605.2" x2="54.5" y2="724.8" stroke="#3c3c3c" stroke-width="1.10"/>
<text x="48.9" y="709.3" font-size="12.3" text-anchor="end">0.2</text>
<text x="48.9" y="689.5" font-size="12.3" text-anchor="end">0.4</text>
<text x="48.9" y="669.6" font-size="12.3" text-anchor="end">0.6</text>
<text x="48.9" y="649.8" font-size="12.3" text-anchor="end">0.8</text>
<text x="48.9" y="629.9" font-size="12.3" text-anchor="end">1.0</text>
<text x="22.8" y="665.0" font-size="13.8" text-anchor="middle" transform="rotate(-90 22.8 665.0)">Relative CD69<tspan font-size="8" dy="-4.2">+</tspan></text>
<line x1="54.5" y1="724.8" x2="245.5" y2="724.8" stroke="#808080" stroke-width="2.60"/>
<line x1="54.5" y1="724.8" x2="253.0" y2="724.8" stroke="#222" stroke-width="1.00"/>
<line x1="92.5" y1="724.8" x2="92.5" y2="727.3" stroke="#333" stroke-width="0.90"/>
<line x1="130.8" y1="724.8" x2="130.8" y2="727.3" stroke="#333" stroke-width="0.90"/>
<line x1="169.0" y1="724.8" x2="169.0" y2="727.3" stroke="#333" stroke-width="0.90"/>
<line x1="207.3" y1="724.8" x2="207.3" y2="727.3" stroke="#333" stroke-width="0.90"/>
<line x1="245.5" y1="724.8" x2="245.5" y2="727.3" stroke="#333" stroke-width="0.90"/>
<path d="M54.3 724.8C55.1 720.8 57.5 706.5 59.1 701.0C60.7 695.4 61.5 696.8 63.9 691.4C66.2 686.0 65.5 678.3 73.4 668.5C81.4 658.7 98.9 639.6 111.7 632.5C124.4 625.3 127.6 626.7 149.9 625.5C172.2 624.3 229.6 625.3 245.5 625.2" fill="none" stroke="#111" stroke-width="1.15"/>
<path d="M54.3 724.8C55.1 724.0 57.5 721.3 59.1 719.8C60.7 718.4 61.5 717.5 63.9 716.3C66.2 715.0 65.5 714.9 73.4 712.3C81.4 709.7 98.9 704.8 111.7 700.6C124.4 696.3 127.6 693.8 149.9 686.8C172.2 679.8 229.6 663.2 245.5 658.5" fill="none" stroke="#111" stroke-width="1.15"/>
<line x1="59.1" y1="698.0" x2="59.1" y2="703.9" stroke="#4a4a4a" stroke-width="1.00"/>
<line x1="57.6" y1="698.0" x2="60.6" y2="698.0" stroke="#4a4a4a" stroke-width="1.00"/>
<line x1="57.6" y1="703.9" x2="60.6" y2="703.9" stroke="#4a4a4a" stroke-width="1.00"/>
<line x1="63.9" y1="684.5" x2="63.9" y2="698.4" stroke="#4a4a4a" stroke-width="1.00"/>
<line x1="62.4" y1="684.5" x2="65.4" y2="684.5" stroke="#4a4a4a" stroke-width="1.00"/>
<line x1="62.4" y1="698.4" x2="65.4" y2="698.4" stroke="#4a4a4a" stroke-width="1.00"/>
<line x1="73.4" y1="656.1" x2="73.4" y2="680.9" stroke="#4a4a4a" stroke-width="1.00"/>
<line x1="71.9" y1="656.1" x2="74.9" y2="656.1" stroke="#4a4a4a" stroke-width="1.00"/>
<line x1="71.9" y1="680.9" x2="74.9" y2="680.9" stroke="#4a4a4a" stroke-width="1.00"/>
<line x1="111.7" y1="629.5" x2="111.7" y2="635.4" stroke="#4a4a4a" stroke-width="1.00"/>
<line x1="110.2" y1="629.5" x2="113.2" y2="629.5" stroke="#4a4a4a" stroke-width="1.00"/>
<line x1="110.2" y1="635.4" x2="113.2" y2="635.4" stroke="#4a4a4a" stroke-width="1.00"/>
<line x1="73.4" y1="710.3" x2="73.4" y2="714.3" stroke="#4a4a4a" stroke-width="1.00"/>
<line x1="71.9" y1="710.3" x2="74.9" y2="710.3" stroke="#4a4a4a" stroke-width="1.00"/>
<line x1="71.9" y1="714.3" x2="74.9" y2="714.3" stroke="#4a4a4a" stroke-width="1.00"/>
<line x1="111.7" y1="695.1" x2="111.7" y2="706.0" stroke="#4a4a4a" stroke-width="1.00"/>
<line x1="110.2" y1="695.1" x2="113.2" y2="695.1" stroke="#4a4a4a" stroke-width="1.00"/>
<line x1="110.2" y1="706.0" x2="113.2" y2="706.0" stroke="#4a4a4a" stroke-width="1.00"/>
<line x1="149.9" y1="677.8" x2="149.9" y2="695.7" stroke="#4a4a4a" stroke-width="1.00"/>
<line x1="148.4" y1="677.8" x2="151.4" y2="677.8" stroke="#4a4a4a" stroke-width="1.00"/>
<line x1="148.4" y1="695.7" x2="151.4" y2="695.7" stroke="#4a4a4a" stroke-width="1.00"/>
<line x1="245.5" y1="648.0" x2="245.5" y2="668.9" stroke="#4a4a4a" stroke-width="1.00"/>
<line x1="244.0" y1="648.0" x2="247.0" y2="648.0" stroke="#4a4a4a" stroke-width="1.00"/>
<line x1="244.0" y1="668.9" x2="247.0" y2="668.9" stroke="#4a4a4a" stroke-width="1.00"/>
<rect x="57.0" y="722.7" width="4.2" height="4.2" fill="#fff" stroke="#111" stroke-width="0.95"/>
<rect x="61.8" y="722.7" width="4.2" height="4.2" fill="#fff" stroke="#111" stroke-width="0.95"/>
<rect x="71.3" y="722.7" width="4.2" height="4.2" fill="#fff" stroke="#111" stroke-width="0.95"/>
<rect x="109.6" y="722.7" width="4.2" height="4.2" fill="#fff" stroke="#111" stroke-width="0.95"/>
<rect x="147.8" y="722.7" width="4.2" height="4.2" fill="#fff" stroke="#111" stroke-width="0.95"/>
<rect x="243.4" y="722.7" width="4.2" height="4.2" fill="#fff" stroke="#111" stroke-width="0.95"/>
<rect x="51.8" y="722.2" width="5.1" height="5.1" fill="#000"/>
<rect x="56.5" y="698.4" width="5.1" height="5.1" fill="#000"/>
<rect x="61.3" y="688.9" width="5.1" height="5.1" fill="#000"/>
<rect x="70.9" y="665.9" width="5.1" height="5.1" fill="#000"/>
<rect x="109.1" y="629.9" width="5.1" height="5.1" fill="#000"/>
<rect x="147.3" y="623.0" width="5.1" height="5.1" fill="#000"/>
<rect x="242.9" y="622.7" width="5.1" height="5.1" fill="#000"/>
<path d="M59.1 716.4L62.0 722.4L56.2 722.4Z" fill="#000"/>
<path d="M63.9 712.8L66.8 718.9L61.0 718.9Z" fill="#000"/>
<path d="M73.4 708.8L76.3 714.9L70.5 714.9Z" fill="#000"/>
<path d="M111.7 697.1L114.6 703.2L108.8 703.2Z" fill="#000"/>
<path d="M149.9 683.3L152.8 689.4L147.0 689.4Z" fill="#000"/>
<path d="M245.5 655.0L248.4 661.1L242.6 661.1Z" fill="#000"/>
<text x="64.3" y="716.2" font-size="15.0" text-anchor="middle" letter-spacing="0.6">*</text>
<text x="74.1" y="711.8" font-size="15.0" text-anchor="middle" letter-spacing="0.6">*</text>
<text x="112.6" y="697.2" font-size="15.0" text-anchor="middle" letter-spacing="0.6">***</text>
<text x="150.3" y="679.5" font-size="15.0" text-anchor="middle" letter-spacing="0.6">***</text>
<text x="246.3" y="651.2" font-size="15.0" text-anchor="middle" letter-spacing="0.6">*</text>
<text x="192.3" y="621.5" font-size="13.8">vector</text>
<text x="197.8" y="659.4" font-size="13.8">c-Fos</text>
<text x="201.0" y="720.0" font-size="13.8">- OVA</text>
<line x1="54.5" y1="843.1" x2="253.0" y2="843.1" stroke="#999" stroke-width="0.80" stroke-dasharray="1 1.1"/>
<line x1="54.5" y1="823.3" x2="253.0" y2="823.3" stroke="#999" stroke-width="0.80" stroke-dasharray="1 1.1"/>
<line x1="54.5" y1="803.4" x2="253.0" y2="803.4" stroke="#999" stroke-width="0.80" stroke-dasharray="1 1.1"/>
<line x1="54.5" y1="783.6" x2="253.0" y2="783.6" stroke="#999" stroke-width="0.80" stroke-dasharray="1 1.1"/>
<line x1="54.5" y1="763.7" x2="253.0" y2="763.7" stroke="#999" stroke-width="0.80" stroke-dasharray="1 1.1"/>
<rect x="54.5" y="742.7" width="198.5" height="120.3" fill="none" stroke="#555" stroke-width="1.00"/>
<line x1="54.5" y1="742.7" x2="54.5" y2="863.0" stroke="#3c3c3c" stroke-width="1.10"/>
<text x="48.9" y="847.5" font-size="12.3" text-anchor="end">0.2</text>
<text x="48.9" y="827.7" font-size="12.3" text-anchor="end">0.4</text>
<text x="48.9" y="807.8" font-size="12.3" text-anchor="end">0.6</text>
<text x="48.9" y="788.0" font-size="12.3" text-anchor="end">0.8</text>
<text x="48.9" y="768.1" font-size="12.3" text-anchor="end">1.0</text>
<text x="22.2" y="798.4" font-size="13.8" text-anchor="middle" transform="rotate(-90 22.2 798.4)">Relative IL-2 secr.</text>
<line x1="54.5" y1="863.0" x2="245.5" y2="863.0" stroke="#808080" stroke-width="2.60"/>
<line x1="54.5" y1="863.0" x2="253.0" y2="863.0" stroke="#222" stroke-width="1.00"/>
<line x1="92.5" y1="863.0" x2="92.5" y2="865.5" stroke="#333" stroke-width="0.90"/>
<line x1="130.8" y1="863.0" x2="130.8" y2="865.5" stroke="#333" stroke-width="0.90"/>
<line x1="169.0" y1="863.0" x2="169.0" y2="865.5" stroke="#333" stroke-width="0.90"/>
<line x1="207.3" y1="863.0" x2="207.3" y2="865.5" stroke="#333" stroke-width="0.90"/>
<line x1="245.5" y1="863.0" x2="245.5" y2="865.5" stroke="#333" stroke-width="0.90"/>
<path d="M54.3 863.0C55.1 860.7 57.5 853.8 59.1 849.1C60.7 844.4 61.5 842.1 63.9 834.7C66.2 827.3 65.5 813.7 73.4 804.9C81.4 796.1 98.9 788.0 111.7 782.1C124.4 776.1 127.6 772.2 149.9 769.2C172.2 766.1 229.6 764.6 245.5 763.7" fill="none" stroke="#111" stroke-width="1.15"/>
<path d="M54.3 863.0C55.1 863.0 57.5 863.0 59.1 863.0C60.7 863.0 61.5 863.5 63.9 863.0C66.2 862.5 65.5 860.9 73.4 860.0C81.4 859.1 98.9 860.0 111.7 857.5C124.4 855.1 127.6 851.4 149.9 845.1C172.2 838.9 229.6 824.1 245.5 819.9" fill="none" stroke="#111" stroke-width="1.15"/>
<line x1="59.1" y1="836.2" x2="59.1" y2="862.0" stroke="#4a4a4a" stroke-width="1.00"/>
<line x1="57.6" y1="836.2" x2="60.6" y2="836.2" stroke="#4a4a4a" stroke-width="1.00"/>
<line x1="57.6" y1="862.0" x2="60.6" y2="862.0" stroke="#4a4a4a" stroke-width="1.00"/>
<line x1="63.9" y1="827.7" x2="63.9" y2="841.7" stroke="#4a4a4a" stroke-width="1.00"/>
<line x1="62.4" y1="827.7" x2="65.4" y2="827.7" stroke="#4a4a4a" stroke-width="1.00"/>
<line x1="62.4" y1="841.7" x2="65.4" y2="841.7" stroke="#4a4a4a" stroke-width="1.00"/>
<line x1="73.4" y1="786.5" x2="73.4" y2="823.3" stroke="#4a4a4a" stroke-width="1.00"/>
<line x1="71.9" y1="786.5" x2="74.9" y2="786.5" stroke="#4a4a4a" stroke-width="1.00"/>
<line x1="71.9" y1="823.3" x2="74.9" y2="823.3" stroke="#4a4a4a" stroke-width="1.00"/>
<line x1="111.7" y1="763.7" x2="111.7" y2="800.4" stroke="#4a4a4a" stroke-width="1.00"/>
<line x1="110.2" y1="763.7" x2="113.2" y2="763.7" stroke="#4a4a4a" stroke-width="1.00"/>
<line x1="110.2" y1="800.4" x2="113.2" y2="800.4" stroke="#4a4a4a" stroke-width="1.00"/>
<line x1="149.9" y1="764.2" x2="149.9" y2="774.1" stroke="#4a4a4a" stroke-width="1.00"/>
<line x1="148.4" y1="764.2" x2="151.4" y2="764.2" stroke="#4a4a4a" stroke-width="1.00"/>
<line x1="148.4" y1="774.1" x2="151.4" y2="774.1" stroke="#4a4a4a" stroke-width="1.00"/>
<line x1="73.4" y1="856.0" x2="73.4" y2="863.0" stroke="#4a4a4a" stroke-width="1.00"/>
<line x1="71.9" y1="856.0" x2="74.9" y2="856.0" stroke="#4a4a4a" stroke-width="1.00"/>
<line x1="71.9" y1="863.0" x2="74.9" y2="863.0" stroke="#4a4a4a" stroke-width="1.00"/>
<line x1="111.7" y1="853.6" x2="111.7" y2="861.5" stroke="#4a4a4a" stroke-width="1.00"/>
<line x1="110.2" y1="853.6" x2="113.2" y2="853.6" stroke="#4a4a4a" stroke-width="1.00"/>
<line x1="110.2" y1="861.5" x2="113.2" y2="861.5" stroke="#4a4a4a" stroke-width="1.00"/>
<line x1="149.9" y1="843.6" x2="149.9" y2="846.6" stroke="#4a4a4a" stroke-width="1.00"/>
<line x1="148.4" y1="843.6" x2="151.4" y2="843.6" stroke="#4a4a4a" stroke-width="1.00"/>
<line x1="148.4" y1="846.6" x2="151.4" y2="846.6" stroke="#4a4a4a" stroke-width="1.00"/>
<line x1="245.5" y1="815.4" x2="245.5" y2="824.4" stroke="#4a4a4a" stroke-width="1.00"/>
<line x1="244.0" y1="815.4" x2="247.0" y2="815.4" stroke="#4a4a4a" stroke-width="1.00"/>
<line x1="244.0" y1="824.4" x2="247.0" y2="824.4" stroke="#4a4a4a" stroke-width="1.00"/>
<rect x="57.0" y="860.9" width="4.2" height="4.2" fill="#fff" stroke="#111" stroke-width="0.95"/>
<rect x="61.8" y="860.9" width="4.2" height="4.2" fill="#fff" stroke="#111" stroke-width="0.95"/>
<rect x="71.3" y="860.9" width="4.2" height="4.2" fill="#fff" stroke="#111" stroke-width="0.95"/>
<rect x="109.6" y="860.9" width="4.2" height="4.2" fill="#fff" stroke="#111" stroke-width="0.95"/>
<rect x="147.8" y="860.9" width="4.2" height="4.2" fill="#fff" stroke="#111" stroke-width="0.95"/>
<rect x="243.4" y="860.9" width="4.2" height="4.2" fill="#fff" stroke="#111" stroke-width="0.95"/>
<rect x="51.8" y="860.5" width="5.1" height="5.1" fill="#000"/>
<rect x="56.5" y="846.5" width="5.1" height="5.1" fill="#000"/>
<rect x="61.3" y="832.1" width="5.1" height="5.1" fill="#000"/>
<rect x="70.9" y="802.4" width="5.1" height="5.1" fill="#000"/>
<rect x="109.1" y="779.5" width="5.1" height="5.1" fill="#000"/>
<rect x="147.3" y="766.6" width="5.1" height="5.1" fill="#000"/>
<rect x="242.9" y="761.2" width="5.1" height="5.1" fill="#000"/>
<path d="M59.1 859.5L62.0 865.6L56.2 865.6Z" fill="#000"/>
<path d="M63.9 859.5L66.8 865.6L61.0 865.6Z" fill="#000"/>
<path d="M73.4 856.5L76.3 862.6L70.5 862.6Z" fill="#000"/>
<path d="M111.7 854.1L114.6 860.1L108.8 860.1Z" fill="#000"/>
<path d="M149.9 841.6L152.8 847.7L147.0 847.7Z" fill="#000"/>
<path d="M245.5 816.4L248.4 822.5L242.6 822.5Z" fill="#000"/>
<text x="112.6" y="857.2" font-size="15.0" text-anchor="middle" letter-spacing="0.6">*</text>
<text x="150.3" y="844.7" font-size="15.0" text-anchor="middle" letter-spacing="0.6">**</text>
<text x="245.8" y="818.0" font-size="15.0" text-anchor="middle" letter-spacing="0.6">**</text>
<text x="192.3" y="761.0" font-size="13.8">vector</text>
<text x="199.0" y="819.0" font-size="13.8">c-Fos</text>
<text x="200.0" y="857.5" font-size="13.8">- OVA</text>
<text x="92.5" y="878.6" font-size="12.4" text-anchor="middle">20</text>
<text x="130.8" y="878.6" font-size="12.4" text-anchor="middle">40</text>
<text x="169.0" y="878.6" font-size="12.4" text-anchor="middle">60</text>
<text x="207.3" y="878.6" font-size="12.4" text-anchor="middle">80</text>
<text x="245.5" y="878.6" font-size="12.4" text-anchor="middle">100</text>
<line x1="309.8" y1="704.5" x2="509.2" y2="704.5" stroke="#999" stroke-width="0.80" stroke-dasharray="1 1.1"/>
<line x1="309.8" y1="684.7" x2="509.2" y2="684.7" stroke="#999" stroke-width="0.80" stroke-dasharray="1 1.1"/>
<line x1="309.8" y1="664.8" x2="509.2" y2="664.8" stroke="#999" stroke-width="0.80" stroke-dasharray="1 1.1"/>
<line x1="309.8" y1="645.0" x2="509.2" y2="645.0" stroke="#999" stroke-width="0.80" stroke-dasharray="1 1.1"/>
<line x1="309.8" y1="625.1" x2="509.2" y2="625.1" stroke="#999" stroke-width="0.80" stroke-dasharray="1 1.1"/>
<rect x="309.8" y="605.2" width="199.4" height="119.2" fill="none" stroke="#555" stroke-width="1.00"/>
<line x1="309.8" y1="605.2" x2="309.8" y2="724.4" stroke="#3c3c3c" stroke-width="1.10"/>
<text x="304.6" y="708.9" font-size="12.3" text-anchor="end">0.2</text>
<text x="304.6" y="689.1" font-size="12.3" text-anchor="end">0.4</text>
<text x="304.6" y="669.2" font-size="12.3" text-anchor="end">0.6</text>
<text x="304.6" y="649.4" font-size="12.3" text-anchor="end">0.8</text>
<text x="304.6" y="629.5" font-size="12.3" text-anchor="end">1.0</text>
<text x="276.6" y="665.0" font-size="13.8" text-anchor="middle" transform="rotate(-90 276.6 665.0)">Relative CD69<tspan font-size="8" dy="-4.2">+</tspan></text>
<line x1="309.8" y1="724.4" x2="501.2" y2="724.4" stroke="#808080" stroke-width="2.60"/>
<line x1="309.8" y1="724.4" x2="509.2" y2="724.4" stroke="#222" stroke-width="1.00"/>
<line x1="348.2" y1="724.4" x2="348.2" y2="726.9" stroke="#333" stroke-width="0.90"/>
<line x1="386.5" y1="724.4" x2="386.5" y2="726.9" stroke="#333" stroke-width="0.90"/>
<line x1="424.7" y1="724.4" x2="424.7" y2="726.9" stroke="#333" stroke-width="0.90"/>
<line x1="463.0" y1="724.4" x2="463.0" y2="726.9" stroke="#333" stroke-width="0.90"/>
<line x1="501.2" y1="724.4" x2="501.2" y2="726.9" stroke="#333" stroke-width="0.90"/>
<path d="M310.0 724.4C310.8 721.1 313.2 709.8 314.8 704.5C316.4 699.3 317.2 699.2 319.6 693.1C321.9 687.1 321.2 677.6 329.1 668.2C337.1 658.8 354.6 643.5 367.4 636.5C380.1 629.6 383.3 628.3 405.6 626.4C427.9 624.4 485.3 625.1 501.2 624.8" fill="none" stroke="#111" stroke-width="1.15"/>
<path d="M310.0 724.4C310.8 724.1 313.2 722.7 314.8 722.4C316.4 722.1 317.2 723.2 319.6 722.4C321.9 721.6 321.2 720.1 329.1 717.4C337.1 714.8 354.6 709.3 367.4 706.5C380.1 703.7 383.3 705.1 405.6 700.6C427.9 696.0 485.3 682.8 501.2 679.2" fill="none" stroke="#111" stroke-width="1.15"/>
<line x1="314.8" y1="702.6" x2="314.8" y2="706.5" stroke="#4a4a4a" stroke-width="1.00"/>
<line x1="313.3" y1="702.6" x2="316.3" y2="702.6" stroke="#4a4a4a" stroke-width="1.00"/>
<line x1="313.3" y1="706.5" x2="316.3" y2="706.5" stroke="#4a4a4a" stroke-width="1.00"/>
<line x1="319.6" y1="685.2" x2="319.6" y2="701.1" stroke="#4a4a4a" stroke-width="1.00"/>
<line x1="318.1" y1="685.2" x2="321.1" y2="685.2" stroke="#4a4a4a" stroke-width="1.00"/>
<line x1="318.1" y1="701.1" x2="321.1" y2="701.1" stroke="#4a4a4a" stroke-width="1.00"/>
<line x1="329.1" y1="657.3" x2="329.1" y2="679.1" stroke="#4a4a4a" stroke-width="1.00"/>
<line x1="327.6" y1="657.3" x2="330.6" y2="657.3" stroke="#4a4a4a" stroke-width="1.00"/>
<line x1="327.6" y1="679.1" x2="330.6" y2="679.1" stroke="#4a4a4a" stroke-width="1.00"/>
<line x1="367.4" y1="632.5" x2="367.4" y2="640.5" stroke="#4a4a4a" stroke-width="1.00"/>
<line x1="365.9" y1="632.5" x2="368.9" y2="632.5" stroke="#4a4a4a" stroke-width="1.00"/>
<line x1="365.9" y1="640.5" x2="368.9" y2="640.5" stroke="#4a4a4a" stroke-width="1.00"/>
<line x1="405.6" y1="624.9" x2="405.6" y2="627.9" stroke="#4a4a4a" stroke-width="1.00"/>
<line x1="404.1" y1="624.9" x2="407.1" y2="624.9" stroke="#4a4a4a" stroke-width="1.00"/>
<line x1="404.1" y1="627.9" x2="407.1" y2="627.9" stroke="#4a4a4a" stroke-width="1.00"/>
<line x1="329.1" y1="715.5" x2="329.1" y2="719.4" stroke="#4a4a4a" stroke-width="1.00"/>
<line x1="327.6" y1="715.5" x2="330.6" y2="715.5" stroke="#4a4a4a" stroke-width="1.00"/>
<line x1="327.6" y1="719.4" x2="330.6" y2="719.4" stroke="#4a4a4a" stroke-width="1.00"/>
<line x1="367.4" y1="701.6" x2="367.4" y2="711.5" stroke="#4a4a4a" stroke-width="1.00"/>
<line x1="365.9" y1="701.6" x2="368.9" y2="701.6" stroke="#4a4a4a" stroke-width="1.00"/>
<line x1="365.9" y1="711.5" x2="368.9" y2="711.5" stroke="#4a4a4a" stroke-width="1.00"/>
<line x1="405.6" y1="696.6" x2="405.6" y2="704.5" stroke="#4a4a4a" stroke-width="1.00"/>
<line x1="404.1" y1="696.6" x2="407.1" y2="696.6" stroke="#4a4a4a" stroke-width="1.00"/>
<line x1="404.1" y1="704.5" x2="407.1" y2="704.5" stroke="#4a4a4a" stroke-width="1.00"/>
<line x1="501.2" y1="670.3" x2="501.2" y2="688.2" stroke="#4a4a4a" stroke-width="1.00"/>
<line x1="499.7" y1="670.3" x2="502.7" y2="670.3" stroke="#4a4a4a" stroke-width="1.00"/>
<line x1="499.7" y1="688.2" x2="502.7" y2="688.2" stroke="#4a4a4a" stroke-width="1.00"/>
<rect x="312.7" y="722.3" width="4.2" height="4.2" fill="#fff" stroke="#111" stroke-width="0.95"/>
<rect x="317.5" y="722.3" width="4.2" height="4.2" fill="#fff" stroke="#111" stroke-width="0.95"/>
<rect x="327.0" y="722.3" width="4.2" height="4.2" fill="#fff" stroke="#111" stroke-width="0.95"/>
<rect x="365.3" y="722.3" width="4.2" height="4.2" fill="#fff" stroke="#111" stroke-width="0.95"/>
<rect x="403.5" y="722.3" width="4.2" height="4.2" fill="#fff" stroke="#111" stroke-width="0.95"/>
<rect x="499.1" y="722.3" width="4.2" height="4.2" fill="#fff" stroke="#111" stroke-width="0.95"/>
<rect x="307.4" y="721.9" width="5.1" height="5.1" fill="#000"/>
<rect x="312.2" y="702.0" width="5.1" height="5.1" fill="#000"/>
<rect x="317.0" y="690.6" width="5.1" height="5.1" fill="#000"/>
<rect x="326.6" y="665.6" width="5.1" height="5.1" fill="#000"/>
<rect x="364.8" y="634.0" width="5.1" height="5.1" fill="#000"/>
<rect x="403.1" y="623.8" width="5.1" height="5.1" fill="#000"/>
<rect x="498.6" y="622.3" width="5.1" height="5.1" fill="#000"/>
<path d="M314.8 718.9L317.7 725.0L311.9 725.0Z" fill="#000"/>
<path d="M319.6 718.9L322.5 725.0L316.7 725.0Z" fill="#000"/>
<path d="M329.1 714.0L332.0 720.1L326.2 720.1Z" fill="#000"/>
<path d="M367.4 703.0L370.3 709.1L364.5 709.1Z" fill="#000"/>
<path d="M405.6 697.1L408.5 703.2L402.7 703.2Z" fill="#000"/>
<path d="M501.2 675.7L504.1 681.8L498.3 681.8Z" fill="#000"/>
<text x="328.9" y="718.0" font-size="15.0" text-anchor="middle" letter-spacing="0.6">*</text>
<text x="368.0" y="704.7" font-size="15.0" text-anchor="middle" letter-spacing="0.6">**</text>
<text x="405.8" y="699.5" font-size="15.0" text-anchor="middle" letter-spacing="0.6">**</text>
<text x="502.3" y="671.8" font-size="15.0" text-anchor="middle" letter-spacing="0.6">*</text>
<text x="446.8" y="621.5" font-size="13.8">vector</text>
<text x="449.8" y="680.0" font-size="13.8">c-Fos</text>
<text x="456.0" y="720.0" font-size="13.8">- OVA</text>
<line x1="309.8" y1="843.1" x2="509.2" y2="843.1" stroke="#999" stroke-width="0.80" stroke-dasharray="1 1.1"/>
<line x1="309.8" y1="823.3" x2="509.2" y2="823.3" stroke="#999" stroke-width="0.80" stroke-dasharray="1 1.1"/>
<line x1="309.8" y1="803.4" x2="509.2" y2="803.4" stroke="#999" stroke-width="0.80" stroke-dasharray="1 1.1"/>
<line x1="309.8" y1="783.6" x2="509.2" y2="783.6" stroke="#999" stroke-width="0.80" stroke-dasharray="1 1.1"/>
<line x1="309.8" y1="763.7" x2="509.2" y2="763.7" stroke="#999" stroke-width="0.80" stroke-dasharray="1 1.1"/>
<rect x="309.8" y="742.7" width="199.4" height="120.3" fill="none" stroke="#555" stroke-width="1.00"/>
<line x1="309.8" y1="742.7" x2="309.8" y2="863.0" stroke="#3c3c3c" stroke-width="1.10"/>
<text x="304.6" y="847.5" font-size="12.3" text-anchor="end">0.2</text>
<text x="304.6" y="827.7" font-size="12.3" text-anchor="end">0.4</text>
<text x="304.6" y="807.8" font-size="12.3" text-anchor="end">0.6</text>
<text x="304.6" y="788.0" font-size="12.3" text-anchor="end">0.8</text>
<text x="304.6" y="768.1" font-size="12.3" text-anchor="end">1.0</text>
<text x="276.6" y="798.8" font-size="13.8" text-anchor="middle" transform="rotate(-90 276.6 798.8)">Relative IL-2 secr.</text>
<line x1="309.8" y1="863.0" x2="501.2" y2="863.0" stroke="#808080" stroke-width="2.60"/>
<line x1="309.8" y1="863.0" x2="509.2" y2="863.0" stroke="#222" stroke-width="1.00"/>
<line x1="348.2" y1="863.0" x2="348.2" y2="865.5" stroke="#333" stroke-width="0.90"/>
<line x1="386.5" y1="863.0" x2="386.5" y2="865.5" stroke="#333" stroke-width="0.90"/>
<line x1="424.7" y1="863.0" x2="424.7" y2="865.5" stroke="#333" stroke-width="0.90"/>
<line x1="463.0" y1="863.0" x2="463.0" y2="865.5" stroke="#333" stroke-width="0.90"/>
<line x1="501.2" y1="863.0" x2="501.2" y2="865.5" stroke="#333" stroke-width="0.90"/>
<path d="M310.0 863.0C310.8 861.2 313.2 854.9 314.8 852.1C316.4 849.3 317.2 850.1 319.6 846.1C321.9 842.1 321.2 836.9 329.1 828.2C337.1 819.6 354.6 802.5 367.4 794.5C380.1 786.5 383.3 785.4 405.6 780.3C427.9 775.2 485.3 766.5 501.2 763.7" fill="none" stroke="#111" stroke-width="1.15"/>
<path d="M310.0 863.0C310.8 862.8 313.2 862.2 314.8 862.0C316.4 861.8 317.2 862.2 319.6 862.0C321.9 861.8 321.2 861.3 329.1 861.0C337.1 860.7 354.6 860.5 367.4 860.0C380.1 859.5 383.3 858.9 405.6 858.0C427.9 857.2 485.3 855.6 501.2 855.1" fill="none" stroke="#111" stroke-width="1.15"/>
<line x1="314.8" y1="851.1" x2="314.8" y2="853.1" stroke="#4a4a4a" stroke-width="1.00"/>
<line x1="313.3" y1="851.1" x2="316.3" y2="851.1" stroke="#4a4a4a" stroke-width="1.00"/>
<line x1="313.3" y1="853.1" x2="316.3" y2="853.1" stroke="#4a4a4a" stroke-width="1.00"/>
<line x1="319.6" y1="844.6" x2="319.6" y2="847.6" stroke="#4a4a4a" stroke-width="1.00"/>
<line x1="318.1" y1="844.6" x2="321.1" y2="844.6" stroke="#4a4a4a" stroke-width="1.00"/>
<line x1="318.1" y1="847.6" x2="321.1" y2="847.6" stroke="#4a4a4a" stroke-width="1.00"/>
<line x1="329.1" y1="826.3" x2="329.1" y2="830.2" stroke="#4a4a4a" stroke-width="1.00"/>
<line x1="327.6" y1="826.3" x2="330.6" y2="826.3" stroke="#4a4a4a" stroke-width="1.00"/>
<line x1="327.6" y1="830.2" x2="330.6" y2="830.2" stroke="#4a4a4a" stroke-width="1.00"/>
<line x1="367.4" y1="787.0" x2="367.4" y2="801.9" stroke="#4a4a4a" stroke-width="1.00"/>
<line x1="365.9" y1="787.0" x2="368.9" y2="787.0" stroke="#4a4a4a" stroke-width="1.00"/>
<line x1="365.9" y1="801.9" x2="368.9" y2="801.9" stroke="#4a4a4a" stroke-width="1.00"/>
<line x1="405.6" y1="778.3" x2="405.6" y2="782.3" stroke="#4a4a4a" stroke-width="1.00"/>
<line x1="404.1" y1="778.3" x2="407.1" y2="778.3" stroke="#4a4a4a" stroke-width="1.00"/>
<line x1="404.1" y1="782.3" x2="407.1" y2="782.3" stroke="#4a4a4a" stroke-width="1.00"/>
<line x1="405.6" y1="852.3" x2="405.6" y2="860.0" stroke="#4a4a4a" stroke-width="1.00"/>
<line x1="404.1" y1="852.3" x2="407.1" y2="852.3" stroke="#4a4a4a" stroke-width="1.00"/>
<line x1="404.1" y1="860.0" x2="407.1" y2="860.0" stroke="#4a4a4a" stroke-width="1.00"/>
<line x1="501.2" y1="848.3" x2="501.2" y2="857.0" stroke="#4a4a4a" stroke-width="1.00"/>
<line x1="499.7" y1="848.3" x2="502.7" y2="848.3" stroke="#4a4a4a" stroke-width="1.00"/>
<line x1="499.7" y1="857.0" x2="502.7" y2="857.0" stroke="#4a4a4a" stroke-width="1.00"/>
<rect x="312.7" y="860.9" width="4.2" height="4.2" fill="#fff" stroke="#111" stroke-width="0.95"/>
<rect x="317.5" y="860.9" width="4.2" height="4.2" fill="#fff" stroke="#111" stroke-width="0.95"/>
<rect x="327.0" y="860.9" width="4.2" height="4.2" fill="#fff" stroke="#111" stroke-width="0.95"/>
<rect x="365.3" y="860.9" width="4.2" height="4.2" fill="#fff" stroke="#111" stroke-width="0.95"/>
<rect x="403.5" y="860.9" width="4.2" height="4.2" fill="#fff" stroke="#111" stroke-width="0.95"/>
<rect x="499.1" y="860.9" width="4.2" height="4.2" fill="#fff" stroke="#111" stroke-width="0.95"/>
<rect x="307.4" y="860.5" width="5.1" height="5.1" fill="#000"/>
<rect x="312.2" y="849.5" width="5.1" height="5.1" fill="#000"/>
<rect x="317.0" y="843.6" width="5.1" height="5.1" fill="#000"/>
<rect x="326.6" y="825.7" width="5.1" height="5.1" fill="#000"/>
<rect x="364.8" y="791.9" width="5.1" height="5.1" fill="#000"/>
<rect x="403.1" y="777.7" width="5.1" height="5.1" fill="#000"/>
<rect x="498.6" y="761.2" width="5.1" height="5.1" fill="#000"/>
<path d="M314.8 858.5L317.7 864.6L311.9 864.6Z" fill="#000"/>
<path d="M319.6 858.5L322.5 864.6L316.7 864.6Z" fill="#000"/>
<path d="M329.1 857.5L332.0 863.6L326.2 863.6Z" fill="#000"/>
<path d="M367.4 856.5L370.3 862.6L364.5 862.6Z" fill="#000"/>
<path d="M405.6 854.6L408.5 860.6L402.7 860.6Z" fill="#000"/>
<path d="M501.2 851.6L504.1 857.7L498.3 857.7Z" fill="#000"/>
<text x="330.3" y="860.2" font-size="15.0" text-anchor="middle" letter-spacing="0.6">**</text>
<text x="368.0" y="858.6" font-size="15.0" text-anchor="middle" letter-spacing="0.6">*</text>
<text x="405.8" y="854.0" font-size="15.0" text-anchor="middle" letter-spacing="0.6">**</text>
<text x="502.8" y="850.0" font-size="15.0" text-anchor="middle" letter-spacing="0.6">**</text>
<text x="458.5" y="760.5" font-size="13.8">vector</text>
<text x="473.8" y="834.5" font-size="13.8">c-Fos</text>
<text x="421.5" y="846.8" font-size="13.8">- OVA</text>
<text x="348.2" y="878.6" font-size="12.4" text-anchor="middle">20</text>
<text x="386.5" y="878.6" font-size="12.4" text-anchor="middle">40</text>
<text x="424.7" y="878.6" font-size="12.4" text-anchor="middle">60</text>
<text x="463.0" y="878.6" font-size="12.4" text-anchor="middle">80</text>
<text x="501.2" y="878.6" font-size="12.4" text-anchor="middle">100</text>
<text x="92.3" y="894.0" font-size="13.7">DC<tspan font-size="9.3" dy="-4.6" stroke-width="0.1">2114</tspan><tspan dy="4.6"> cells (x 10</tspan><tspan font-size="9.3" dy="-4.6" stroke-width="0.1">-3</tspan><tspan dy="4.6">)</tspan></text>
<text x="353.8" y="894.0" font-size="13.7">DC<tspan font-size="9.3" dy="-4.6" stroke-width="0.1">2114</tspan><tspan dy="4.6"> cells (x 10</tspan><tspan font-size="9.3" dy="-4.6" stroke-width="0.1">-3</tspan><tspan dy="4.6">)</tspan></text>
</svg></body></html>
